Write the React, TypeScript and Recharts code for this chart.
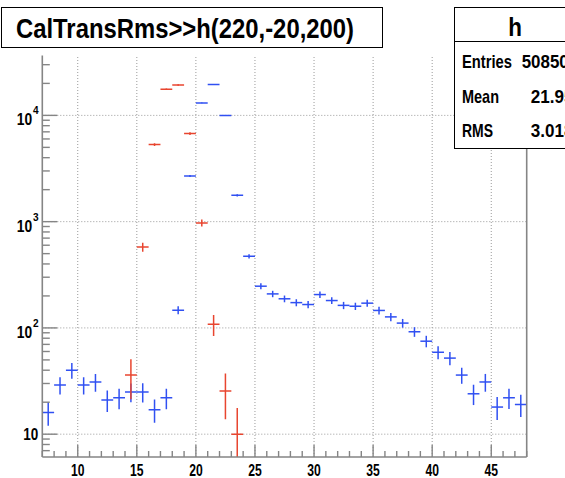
import React from "react";
import { ErrorBar, ReferenceLine, Scatter, ScatterChart, XAxis, YAxis } from "recharts";

// bin centres and contents
const blueBins = [
  7.5, 8.5, 9.5, 10.5, 11.5, 12.5, 13.5, 14.5, 15.5, 16.5, 17.5, 18.5, 19.5, 20.5,
  21.5, 22.5, 23.5, 24.5, 25.5, 26.5, 27.5, 28.5, 29.5, 30.5, 31.5, 32.5, 33.5, 34.5,
  35.5, 36.5, 37.5, 38.5, 39.5, 40.5, 41.5, 42.5, 43.5, 44.5, 45.5, 46.5, 47.5,
];
const blueCounts = [
  16, 29, 40, 29, 31, 21, 22, 25, 25, 17, 22, 147, 2690, 13100, 19500, 10000, 1770,
  472, 247, 209, 188, 173, 166, 206, 181, 163, 160, 171, 146, 127, 111, 92, 75, 59,
  52, 36, 24, 31, 18, 22, 19,
];
const blueErrors = [
  4, 5.4, 6.8, 5.4, 5.9, 4.8, 4.8, 5, 5.1, 4.2, 4.8, 12.7, 52, 115, 140, 100, 42, 22,
  16, 14.5, 13.7, 13.2, 12.9, 14.4, 13.5, 12.8, 12.6, 13.1, 12.1, 11.3, 10.5, 9.6, 9.3,
  8.3, 7.4, 6.2, 5.2, 5.9, 4.4, 4.7, 4.5,
];

const redBins = [14.5, 15.5, 16.5, 17.5, 18.5, 19.5, 20.5, 21.5, 22.5, 23.5];
const redCounts = [36, 578, 5310, 17600, 19300, 6740, 973, 108, 25.5, 10];
const redErrors = [14.7, 56, 170, 305, 320, 190, 72, 24, 11.7, 7.6];

const xTicks = [
  7, 8, 9, 10, 11, 12, 13, 14, 15, 16, 17, 18, 19, 20, 21, 22, 23, 24, 25, 26, 27, 28,
  29, 30, 31, 32, 33, 34, 35, 36, 37, 38, 39, 40, 41, 42, 43, 44, 45, 46, 47, 48,
];
const xMajor = [10, 15, 20, 25, 30, 35, 40, 45];
const yTicks = [
  7, 8, 9, 10, 20, 30, 40, 50, 60, 70, 80, 90, 100, 200, 300, 400, 500, 600, 700, 800,
  900, 1000, 2000, 3000, 4000, 5000, 6000, 7000, 8000, 9000, 10000, 20000, 30000,
];
const yDecades = [10, 100, 1000, 10000];
const yDecadeExp = ["", "2", "3", "4"];

const statNames = ["Entries", "Mean", "RMS"];
const statValues = ["50850", "21.95", "3.018"];

const xDomain = [7, 48];
const yDomain = [6.1, 36600];
const binHalfWidth = 0.5;

const FONT = "'Liberation Sans', Arial, Helvetica, sans-serif";
const axisGray = "#858585";
const gridGray = "#9a9a9a";
const blue = "#3050f2";
const red = "#e8452f";

const blueData = blueBins.map((x, i) => ({ x, y: blueCounts[i], ex: binHalfWidth, ey: blueErrors[i] }));
const redData = redBins.map((x, i) => ({ x, y: redCounts[i], ex: binHalfWidth, ey: redErrors[i] }));

function XTick(props: any) {
  const { x, y, payload } = props;
  const v = payload.value;
  const major = xMajor.includes(v);
  return (
    <g>
      <line x1={x} x2={x} y1={y} y2={y - (major ? 12 : 6)} stroke={axisGray} strokeWidth={1.4} />
      {major && (
        <text
          x={x}
          y={y + 19}
          textAnchor="middle"
          fontFamily={FONT}
          fontWeight="bold"
          fontSize={16}
          textLength={13.5}
          lengthAdjust="spacingAndGlyphs"
          fill="#000"
        >
          {v}
        </text>
      )}
    </g>
  );
}

function YTick(props: any) {
  const { x, y, payload } = props;
  const v = payload.value;
  const idx = yDecades.indexOf(v);
  const major = idx >= 0;
  const exp = major ? yDecadeExp[idx] : "";
  return (
    <g>
      <line x1={x} x2={x + (major ? 15 : 7.5)} y1={y} y2={y} stroke={axisGray} strokeWidth={1.4} />
      {major && exp === "" && (
        <text x={x - 4} y={y + 6} textAnchor="end" fontFamily={FONT} fontWeight="bold" fontSize={17}
          textLength={15} lengthAdjust="spacingAndGlyphs" fill="#000">
          10
        </text>
      )}
      {major && exp !== "" && (
        <g>
          <text x={x - 25.5} y={y + 10} fontFamily={FONT} fontWeight="bold" fontSize={17}
            textLength={15.4} lengthAdjust="spacingAndGlyphs" fill="#000">
            10
          </text>
          <text x={x - 9.3} y={y - 1} fontFamily={FONT} fontWeight="bold" fontSize={11.5}
            textLength={5.6} lengthAdjust="spacingAndGlyphs" fill="#000">
            {exp}
          </text>
        </g>
      )}
    </g>
  );
}

const noMarker = () => <g />;

export default function App() {
  return (
    <div style={{ position: "fixed", left: 0, top: 0, width: 565, height: 478, background: "#fff" }}>
      <style>{`.recharts-scatter, .recharts-errorBar, .recharts-errorBars { clip-path: url(#plotClip); }`}</style>
      <svg width={0} height={0} style={{ position: "absolute" }}>
        <defs>
          <clipPath id="plotClip" clipPathUnits="userSpaceOnUse">
            <rect x={42.3} y={55.5} width={484.4} height={401.5} />
          </clipPath>
        </defs>
      </svg>
      <ScatterChart width={565} height={478} margin={{ top: 55.5, right: 0, bottom: 0, left: 0 }}>
        <XAxis
          dataKey="x"
          type="number"
          domain={xDomain}
          ticks={xTicks}
          interval={0}
          allowDataOverflow
          height={21}
          tickSize={0}
          tickMargin={0}
          tick={<XTick />}
          tickLine={false}
          axisLine={{ stroke: axisGray, strokeWidth: 1.6 }}
        />
        <XAxis xAxisId="top" orientation="top" type="number" domain={xDomain} height={0} tick={false}
          tickLine={false} axisLine={{ stroke: axisGray, strokeWidth: 1.6 }} />
        <YAxis
          dataKey="y"
          type="number"
          scale="log"
          domain={yDomain}
          ticks={yTicks}
          interval={0}
          allowDataOverflow
          width={42.3}
          tickSize={0}
          tickMargin={0}
          tick={<YTick />}
          tickLine={false}
          axisLine={{ stroke: axisGray, strokeWidth: 1.6 }}
        />
        <YAxis yAxisId="right" orientation="right" type="number" domain={[0, 1]} width={38.3} tick={false}
          tickLine={false} axisLine={{ stroke: axisGray, strokeWidth: 1.6 }} />
        {xMajor.map((v) => (
          <ReferenceLine key={"gx" + v} x={v} stroke={gridGray} strokeDasharray="1 2" strokeWidth={1} />
        ))}
        {yDecades.map((v) => (
          <ReferenceLine key={"gy" + v} y={v} stroke={gridGray} strokeDasharray="1 2" strokeWidth={1} />
        ))}
        <Scatter data={blueData} shape={noMarker} isAnimationActive={false}>
          <ErrorBar dataKey="ex" direction="x" width={0} stroke={blue} strokeWidth={1.5} isAnimationActive={false} />
          <ErrorBar dataKey="ey" direction="y" width={0} stroke={blue} strokeWidth={1.5} isAnimationActive={false} />
        </Scatter>
        <Scatter data={redData} shape={noMarker} isAnimationActive={false}>
          <ErrorBar dataKey="ex" direction="x" width={0} stroke={red} strokeWidth={1.5} isAnimationActive={false} />
          <ErrorBar dataKey="ey" direction="y" width={0} stroke={red} strokeWidth={1.5} isAnimationActive={false} />
        </Scatter>
      </ScatterChart>
      <svg width={565} height={478} style={{ position: "absolute", left: 0, top: 0, pointerEvents: "none" }}>
        <rect x={1.5} y={7.5} width={381} height={40} fill="#fff" stroke="#000" strokeWidth={1} />
        <text x={16} y={37.7} fontFamily={FONT} fontWeight="bold" fontSize={27} textLength={338}
          lengthAdjust="spacingAndGlyphs" fill="#000">
          CalTransRms&gt;&gt;h(220,-20,200)
        </text>
        <rect x={454.5} y={7.5} width={120} height={141} fill="#fff" stroke="#000" strokeWidth={1} />
        <line x1={454.5} x2={565} y1={41.5} y2={41.5} stroke="#000" strokeWidth={1} />
        <text x={515} y={36} textAnchor="middle" fontFamily={FONT} fontWeight="bold" fontSize={25}
          textLength={13.7} lengthAdjust="spacingAndGlyphs" fill="#000">
          h
        </text>
        {statNames.map((name, i) => (
          <text key={name} x={462} y={68.3 + i * 34.3} fontFamily={FONT} fontWeight="bold" fontSize={19}
            textLength={[50, 37, 31][i]} lengthAdjust="spacingAndGlyphs" fill="#000">
            {name}
          </text>
        ))}
        {statValues.map((val, i) => (
          <text key={val} x={[521.7, 530.7, 530.7][i]} y={68.3 + i * 34.3} fontFamily={FONT} fontWeight="bold"
            fontSize={19} textLength={[47, 42.7, 42.7][i]} lengthAdjust="spacingAndGlyphs" fill="#000">
            {val}
          </text>
        ))}
      </svg>
    </div>
  );
}
